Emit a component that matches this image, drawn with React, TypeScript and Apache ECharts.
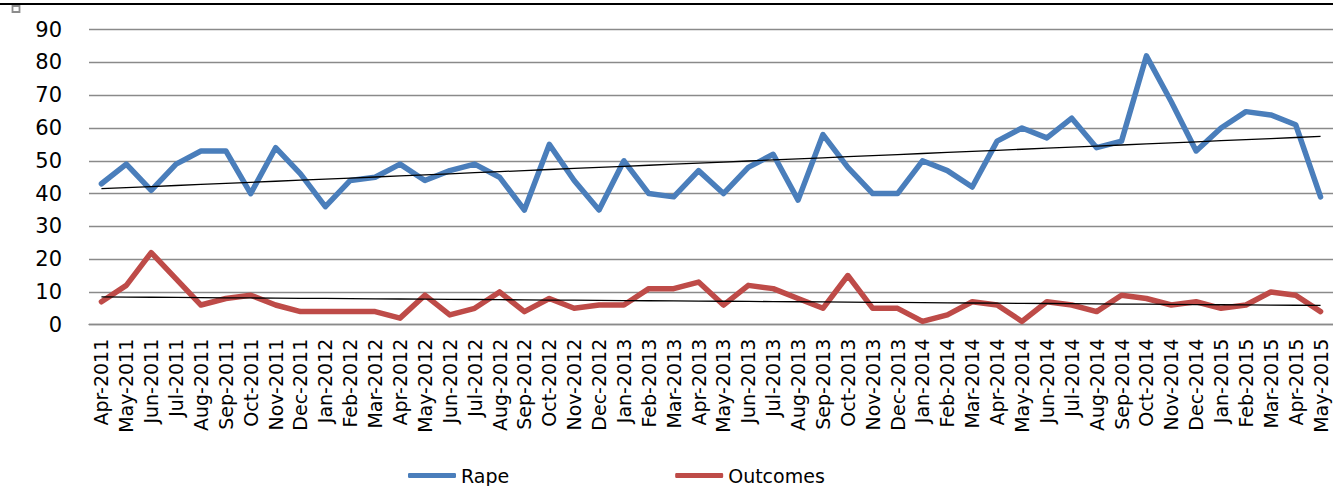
import React, { useEffect, useRef } from "react";
import * as echarts from "echarts";

const categories = [
  "Apr-2011", "May-2011", "Jun-2011", "Jul-2011", "Aug-2011", "Sep-2011", "Oct-2011", "Nov-2011", "Dec-2011",
  "Jan-2012", "Feb-2012", "Mar-2012", "Apr-2012", "May-2012", "Jun-2012", "Jul-2012", "Aug-2012", "Sep-2012", "Oct-2012", "Nov-2012", "Dec-2012",
  "Jan-2013", "Feb-2013", "Mar-2013", "Apr-2013", "May-2013", "Jun-2013", "Jul-2013", "Aug-2013", "Sep-2013", "Oct-2013", "Nov-2013", "Dec-2013",
  "Jan-2014", "Feb-2014", "Mar-2014", "Apr-2014", "May-2014", "Jun-2014", "Jul-2014", "Aug-2014", "Sep-2014", "Oct-2014", "Nov-2014", "Dec-2014",
  "Jan-2015", "Feb-2015", "Mar-2015", "Apr-2015", "May-2015",
];

const rape = [
  43, 49, 41, 49, 53, 53, 40, 54, 46, 36,
  44, 45, 49, 44, 47, 49, 45, 35, 55, 44,
  35, 50, 40, 39, 47, 40, 48, 52, 38, 58,
  48, 40, 40, 50, 47, 42, 56, 60, 57, 63,
  54, 56, 82, 68, 53, 60, 65, 64, 61, 39,
];

const outcomes = [
  7, 12, 22, 14, 6, 8, 9, 6, 4, 4,
  4, 4, 2, 9, 3, 5, 10, 4, 8, 5,
  6, 6, 11, 11, 13, 6, 12, 11, 8, 5,
  15, 5, 5, 1, 3, 7, 6, 1, 7, 6,
  4, 9, 8, 6, 7, 5, 6, 10, 9, 4,
];

const yTicks = [0, 10, 20, 30, 40, 50, 60, 70, 80, 90];

function linearTrend(values: number[]): number[] {
  const n = values.length;
  let sx = 0, sy = 0, sxy = 0, sxx = 0;
  values.forEach((v, i) => {
    sx += i; sy += v; sxy += i * v; sxx += i * i;
  });
  const slope = (n * sxy - sx * sy) / (n * sxx - sx * sx);
  const icpt = (sy - slope * sx) / n;
  return values.map((_, i) => +(icpt + slope * i).toFixed(3));
}

export default function App() {
  const ref = useRef<HTMLDivElement>(null);
  useEffect(() => {
    if (!ref.current) return;
    const chart = echarts.init(ref.current, null, { renderer: "svg" });
    const font = "DejaVu Sans";
    chart.setOption({
      animation: false,
      backgroundColor: "#ffffff",
      textStyle: { fontFamily: font },
      grid: { left: 89, top: 29.7, width: 1246.5, height: 295 },
      legend: {
        data: ["Rape", "Outcomes"],
        left: 403,
        top: 461,
        itemWidth: 48,
        itemHeight: 5,
        itemGap: 166,
        icon: "roundRect",
        textStyle: { fontFamily: font, fontSize: 19, color: "#000" },
      },
      xAxis: {
        type: "category",
        data: categories,
        boundaryGap: true,
        axisLine: { show: true, lineStyle: { color: "#8a8a8a", width: 1.3 } },
        axisTick: { show: false },
        axisLabel: {
          interval: 0,
          rotate: 90,
          margin: 14,
          fontFamily: font,
          fontSize: 19,
          color: "#000",
        },
      },
      yAxis: {
        type: "value",
        min: yTicks[0],
        max: yTicks[yTicks.length - 1],
        interval: 10,
        axisLine: { show: false },
        axisTick: { show: false },
        axisLabel: { margin: 27, fontFamily: font, fontSize: 21, color: "#000" },
        splitLine: { lineStyle: { color: "#8a8a8a", width: 1.3 } },
      },
      series: [
        {
          name: "Rape",
          type: "line",
          data: rape,
          symbol: "none",
          color: "#4A7EBB",
          lineStyle: { color: "#4A7EBB", width: 5.5, cap: "round", join: "round" },
          z: 2,
        },
        {
          name: "Outcomes",
          type: "line",
          data: outcomes,
          symbol: "none",
          color: "#BE4B48",
          lineStyle: { color: "#BE4B48", width: 5.5, cap: "round", join: "round" },
          z: 2,
        },
        {
          name: "Rape trend",
          type: "line",
          data: linearTrend(rape),
          symbol: "none",
          lineStyle: { color: "#000", width: 1.3 },
          z: 3,
        },
        {
          name: "Outcomes trend",
          type: "line",
          data: linearTrend(outcomes),
          symbol: "none",
          lineStyle: { color: "#000", width: 1.3 },
          z: 3,
        },
      ],
      graphic: [
        {
          type: "line",
          shape: { x1: 0, y1: 4, x2: 1333, y2: 4 },
          style: { stroke: "#000", lineWidth: 2.2 },
        },
        {
          type: "rect",
          shape: { x: 12.5, y: 6, width: 7, height: 6 },
          style: { fill: "#fff", stroke: "#8c8c8c", lineWidth: 1.8 },
        },
      ],
    });
    return () => chart.dispose();
  }, []);
  return (
    <div
      ref={ref}
      style={{ position: "fixed", left: 0, top: 0, width: 1333, height: 486 }}
    />
  );
}
